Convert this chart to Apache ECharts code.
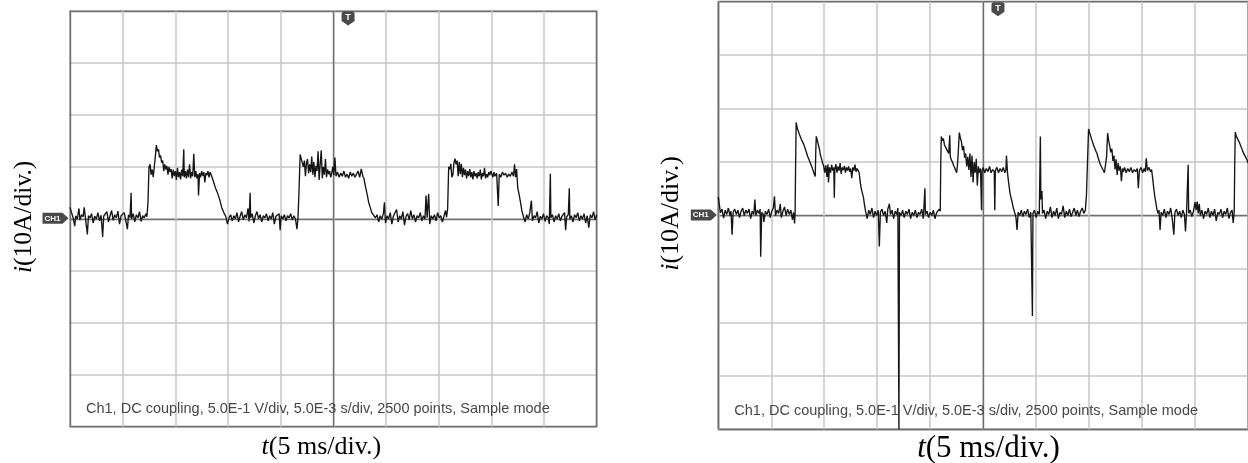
<!DOCTYPE html>
<html>
<head>
<meta charset="utf-8">
<script src="https://cdn.jsdelivr.net/npm/echarts@6/dist/echarts.min.js"></script>
<style>
html,body{margin:0;padding:0;background:#fff;}
#chart{width:1248px;height:463px;}
</style>
</head>
<body>
<div id="chart"></div>
<script>
// Values in divisions: x in time divisions (5 ms/div), y in current divisions (10 A/div)
const timeDivTicks = [0,1,2,3,4,5,6,7,8,9,10];
const currentDivTicks = [-4,-3,-2,-1,0,1,2,3,4];
const xTitle = 't(5 ms/div.)';
const yTitle = 'i(10A/div.)';
const infoText = 'Ch1, DC coupling, 5.0E-1 V/div, 5.0E-3 s/div, 2500 points, Sample mode';
const triggerPos = 5.28;

const leftTrace = [
[0.00,0.22],[0.03,0.12],[0.06,0.02],[0.09,-0.14],[0.11,0.06],[0.14,0.0],[0.17,0.20],[0.19,-0.02],[0.22,0.08],[0.25,0.04],[0.27,0.22],[0.30,-0.05],[0.33,-0.30],[0.35,0.06],[0.38,0.02],[0.41,0.10],[0.44,-0.08],[0.47,0.05],[0.50,0.0],[0.53,0.12],[0.56,-0.04],[0.59,0.07],[0.62,-0.35],[0.64,0.05],[0.67,0.02],[0.70,0.14],[0.73,-0.06],[0.76,0.06],[0.79,0.16],[0.82,-0.03],[0.85,0.08],[0.88,0.02],[0.91,0.15],[0.94,-0.10],[0.97,0.06],[1.00,0.03],[1.03,0.12],[1.06,-0.04],[1.09,-0.20],[1.11,0.08],[1.14,0.02],[1.16,0.50],[1.17,0.0],[1.20,0.10],[1.23,-0.06],[1.26,0.08],[1.29,0.02],[1.32,0.14],[1.35,-0.05],[1.38,0.06],[1.41,0.02],[1.44,0.10],[1.46,0.04],
[1.48,0.30],[1.50,1.00],[1.52,1.05],[1.54,0.85],[1.56,0.95],[1.58,0.80],[1.60,0.78],[1.62,1.20],[1.64,1.42],[1.66,1.30],[1.68,1.34],[1.70,1.18],[1.72,1.22],[1.74,1.08],[1.76,1.12],[1.78,0.92],[1.80,1.05],[1.82,0.95],[1.84,1.02],[1.86,0.85],[1.88,1.00],[1.90,0.90],[1.92,0.96],[1.94,0.78],[1.96,0.95],[1.98,0.82],[2.00,0.92],[2.02,0.75],[2.04,0.98],[2.06,0.80],[2.08,0.90],[2.10,0.76],[2.12,0.95],[2.14,0.82],[2.16,1.34],[2.17,0.80],[2.19,0.92],[2.21,0.78],[2.23,0.95],[2.25,0.80],[2.27,1.05],[2.29,0.78],[2.31,0.90],[2.33,0.82],[2.35,1.25],[2.37,0.80],[2.39,0.92],[2.41,0.78],[2.43,0.86],[2.44,0.45],[2.46,0.88],[2.48,0.80],[2.50,0.92],[2.52,0.83],[2.54,0.90],[2.56,0.70],[2.58,0.88],[2.60,0.84],[2.62,0.92],[2.64,0.80],[2.66,0.90],[2.68,0.85],[2.70,0.84],[2.73,0.70],[2.76,0.60],[2.80,0.50],[2.84,0.38],[2.88,0.22],[2.92,0.12],[2.96,0.04],[2.99,-0.10],
[3.02,0.02],[3.05,0.08],[3.08,-0.04],[3.11,0.06],[3.14,0.0],[3.17,0.12],[3.20,-0.06],[3.23,0.05],[3.26,0.14],[3.29,-0.02],[3.32,0.08],[3.35,0.02],[3.38,0.20],[3.40,-0.05],[3.42,0.50],[3.43,0.02],[3.46,0.10],[3.49,-0.08],[3.52,0.06],[3.55,0.14],[3.58,0.0],[3.61,0.08],[3.64,-0.06],[3.67,0.06],[3.70,0.02],[3.73,0.10],[3.76,-0.04],[3.79,0.06],[3.82,0.0],[3.85,0.12],[3.88,-0.10],[3.91,0.05],[3.94,0.02],[3.97,0.10],[3.99,-0.22],[4.01,0.06],[4.04,0.0],[4.07,0.08],[4.10,-0.04],[4.13,0.06],[4.16,0.02],[4.19,0.10],[4.22,-0.02],[4.25,0.06],[4.28,0.0],[4.31,-0.20],[4.33,0.04],
[4.35,0.60],[4.37,1.24],[4.39,1.16],[4.41,1.18],[4.43,1.00],[4.45,1.12],[4.47,0.82],[4.49,1.08],[4.51,1.15],[4.53,0.88],[4.55,1.05],[4.57,0.90],[4.59,1.20],[4.61,0.85],[4.63,1.10],[4.65,0.80],[4.67,1.02],[4.69,0.92],[4.71,1.30],[4.73,0.75],[4.75,1.05],[4.77,1.32],[4.79,0.78],[4.81,1.00],[4.83,0.85],[4.85,1.15],[4.87,0.80],[4.89,0.95],[4.91,0.86],[4.93,0.92],[4.95,0.80],[4.97,0.88],[4.99,1.00],[5.01,0.84],[5.03,1.18],[5.05,0.82],[5.08,0.90],[5.11,0.80],[5.14,0.88],[5.17,0.82],[5.20,0.92],[5.23,0.80],[5.26,0.86],[5.29,0.78],[5.32,0.90],[5.35,0.82],[5.38,0.88],[5.41,0.80],[5.44,0.86],[5.47,0.92],[5.50,0.80],[5.53,0.96],[5.56,0.82],[5.58,0.78],[5.61,0.62],[5.64,0.48],[5.67,0.32],[5.70,0.22],[5.73,0.12],[5.77,0.06],[5.80,0.02],[5.83,0.08],
[5.86,-0.06],[5.89,0.06],[5.92,0.0],[5.95,0.10],[5.97,0.32],[5.99,-0.08],[6.02,0.06],[6.05,0.0],[6.08,0.12],[6.11,-0.10],[6.14,0.05],[6.17,0.02],[6.20,0.18],[6.23,-0.06],[6.26,0.06],[6.29,0.0],[6.32,0.14],[6.35,-0.12],[6.38,0.05],[6.41,0.10],[6.44,-0.02],[6.47,0.16],[6.50,0.0],[6.53,0.08],[6.56,-0.06],[6.59,0.06],[6.62,0.02],[6.65,0.12],[6.68,-0.04],[6.71,0.06],[6.74,0.0],[6.76,0.45],[6.78,0.02],[6.81,0.48],[6.83,-0.10],[6.86,0.06],[6.89,0.0],[6.92,0.08],[6.95,-0.04],[6.98,0.12],[7.01,0.02],[7.04,0.06],[7.07,-0.06],[7.10,0.05],[7.13,0.16],[7.15,0.03],
[7.17,0.20],[7.19,1.00],[7.21,0.95],[7.23,1.06],[7.25,0.80],[7.27,0.85],[7.29,1.08],[7.31,1.16],[7.33,1.05],[7.35,1.12],[7.37,0.82],[7.39,1.10],[7.41,0.86],[7.43,1.06],[7.45,0.80],[7.47,0.98],[7.49,0.84],[7.51,0.95],[7.53,0.78],[7.55,0.92],[7.57,0.82],[7.59,0.96],[7.61,0.80],[7.63,0.90],[7.65,0.76],[7.67,0.92],[7.69,0.82],[7.71,0.88],[7.73,0.78],[7.75,0.90],[7.77,0.82],[7.79,0.95],[7.81,0.76],[7.83,0.88],[7.85,0.82],[7.87,0.98],[7.89,0.78],[7.91,0.86],[7.93,0.80],[7.95,0.90],[7.97,0.84],[7.99,0.92],[8.01,0.86],[8.03,0.80],[8.05,0.90],[8.07,0.82],[8.10,0.88],[8.13,0.25],[8.15,0.86],[8.18,0.80],[8.21,0.90],[8.24,0.84],[8.27,0.88],[8.30,0.80],[8.33,0.86],[8.36,0.82],[8.39,0.90],[8.42,0.82],[8.44,1.05],[8.46,0.80],[8.48,0.96],[8.50,0.60],[8.53,0.45],[8.56,0.28],[8.58,0.15],[8.61,0.04],
[8.64,-0.06],[8.67,0.08],[8.70,0.0],[8.73,0.12],[8.76,0.35],[8.78,-0.04],[8.81,0.06],[8.84,0.02],[8.87,0.14],[8.90,-0.08],[8.93,0.05],[8.96,0.0],[8.99,0.10],[9.02,-0.05],[9.05,0.06],[9.08,0.02],[9.10,-0.10],[9.12,0.87],[9.13,0.02],[9.16,0.08],[9.19,-0.06],[9.22,0.06],[9.25,0.0],[9.28,0.10],[9.31,-0.04],[9.34,0.05],[9.37,0.02],[9.39,0.12],[9.41,-0.22],[9.43,0.04],[9.46,0.08],[9.48,0.59],[9.49,0.0],[9.52,0.06],[9.55,-0.06],[9.58,0.08],[9.61,0.02],[9.64,0.12],[9.67,-0.04],[9.70,0.06],[9.73,0.0],[9.76,0.10],[9.79,-0.08],[9.82,0.06],[9.85,-0.17],[9.88,0.08],[9.91,0.02],[9.94,0.14],[9.97,-0.02],[10.0,0.08]
];

const rightTrace = [
[0.00,0.35],[0.02,0.20],[0.04,0.05],[0.07,0.12],[0.10,-0.05],[0.13,0.10],[0.16,0.02],[0.19,0.14],[0.22,0.0],[0.24,0.08],[0.26,-0.36],[0.28,0.06],[0.31,0.12],[0.34,0.02],[0.37,0.10],[0.40,-0.04],[0.43,0.08],[0.46,0.14],[0.49,0.0],[0.52,0.10],[0.55,0.04],[0.58,0.12],[0.61,-0.06],[0.64,0.08],[0.67,0.02],[0.69,0.30],[0.71,0.0],[0.74,0.10],[0.77,0.04],[0.79,0.12],[0.80,-0.77],[0.82,0.06],[0.85,0.02],[0.86,-0.12],[0.89,0.08],[0.92,0.02],[0.95,0.12],[0.98,-0.04],[1.01,0.08],[1.04,0.14],[1.06,0.36],[1.08,0.0],[1.11,0.10],[1.14,0.04],[1.17,0.22],[1.19,-0.04],[1.22,0.08],[1.25,0.16],[1.28,0.0],[1.31,0.12],[1.34,0.02],[1.37,0.10],[1.40,-0.08],[1.42,0.06],[1.44,-0.15],[1.45,0.05],
[1.46,1.00],[1.47,1.74],[1.49,1.64],[1.51,1.62],[1.53,1.52],[1.55,1.52],[1.57,1.42],[1.59,1.42],[1.61,1.34],[1.63,1.32],[1.65,1.22],[1.67,1.22],[1.69,1.10],[1.71,1.10],[1.73,1.00],[1.75,0.98],[1.77,0.90],[1.79,0.88],[1.81,0.78],[1.83,0.73],[1.84,1.20],[1.85,1.48],[1.87,1.40],[1.89,1.32],[1.91,1.24],[1.93,1.12],[1.95,1.06],[1.97,0.98],[1.99,0.92],
[2.01,0.80],[2.03,0.94],[2.05,0.72],[2.07,0.96],[2.08,0.62],[2.10,0.90],[2.12,0.80],[2.14,0.95],[2.16,0.84],[2.18,0.90],[2.19,0.33],[2.20,0.86],[2.22,0.96],[2.24,0.80],[2.26,0.92],[2.28,0.84],[2.30,0.98],[2.32,0.78],[2.34,0.90],[2.36,0.85],[2.38,0.93],[2.40,0.80],[2.42,0.90],[2.44,0.84],[2.46,0.92],[2.48,0.82],[2.50,0.88],[2.52,0.70],[2.54,0.90],[2.56,0.84],[2.58,0.95],[2.60,0.82],[2.62,0.88],[2.64,0.84],[2.66,0.80],[2.68,0.62],[2.70,0.50],[2.72,0.42],[2.74,0.34],[2.76,0.20],[2.78,0.08],
[2.81,-0.06],[2.84,0.10],[2.87,0.02],[2.90,0.14],[2.93,-0.04],[2.96,0.08],[2.99,0.0],[3.02,0.10],[3.04,-0.58],[3.06,0.06],[3.09,0.12],[3.12,0.0],[3.15,0.08],[3.18,-0.14],[3.20,0.12],[3.23,0.22],[3.25,0.02],[3.28,0.10],[3.31,-0.06],[3.34,0.08],[3.37,0.02],[3.39,0.14],[3.41,-4.0],[3.42,0.06],[3.45,0.0],[3.48,0.10],[3.51,-0.04],[3.54,0.08],[3.57,0.02],[3.60,0.12],[3.63,-0.06],[3.66,0.06],[3.69,0.0],[3.72,0.10],[3.75,-0.04],[3.78,0.06],[3.81,0.02],[3.84,0.12],[3.87,-0.06],[3.90,0.51],[3.91,0.02],[3.94,0.08],[3.97,-0.04],[4.00,0.06],[4.03,0.0],[4.06,0.10],[4.09,-0.06],[4.12,0.05],[4.15,0.02],[4.17,0.12],[4.19,0.08],
[4.20,1.00],[4.21,1.48],[4.23,1.40],[4.25,1.44],[4.27,1.32],[4.29,1.28],[4.31,1.30],[4.33,1.20],[4.35,1.16],[4.37,1.50],[4.38,1.10],[4.40,1.04],[4.42,1.00],[4.44,0.94],[4.46,0.90],[4.48,0.85],[4.50,0.80],[4.52,1.00],[4.55,1.55],[4.57,1.45],[4.59,1.38],[4.61,1.22],[4.63,1.30],[4.65,1.08],[4.67,1.16],[4.69,0.92],[4.71,1.10],[4.73,0.85],[4.75,1.16],[4.77,0.72],[4.79,1.12],[4.81,0.62],[4.83,1.00],[4.85,0.80],[4.87,1.06],[4.89,0.56],[4.91,0.92],[4.93,0.80],[4.95,0.88],[4.97,0.10],[4.98,0.84],[5.00,0.90],[5.03,0.80],[5.06,0.88],[5.09,0.82],[5.12,0.92],[5.15,0.80],[5.18,0.86],[5.21,0.82],[5.22,0.10],[5.23,0.84],[5.26,0.90],[5.29,0.80],[5.32,0.88],[5.35,0.82],[5.38,0.90],[5.41,0.80],[5.43,0.86],[5.44,1.12],[5.46,0.80],[5.48,0.62],[5.51,0.40],[5.54,0.28],[5.57,0.14],[5.60,0.04],
[5.62,-0.04],[5.64,-0.27],[5.66,0.06],[5.69,0.0],[5.72,0.10],[5.75,-0.02],[5.78,0.08],[5.81,0.02],[5.84,0.12],[5.87,-0.04],[5.90,0.06],[5.93,-1.88],[5.94,0.04],[5.97,0.10],[6.00,-0.04],[6.03,0.08],[6.06,0.02],[6.08,1.48],[6.09,0.30],[6.11,0.46],[6.12,0.04],[6.15,0.10],[6.18,-0.06],[6.21,0.08],[6.24,0.02],[6.27,0.16],[6.30,-0.04],[6.33,0.08],[6.36,0.0],[6.39,0.14],[6.42,-0.06],[6.45,0.06],[6.48,0.02],[6.51,0.18],[6.54,-0.04],[6.57,0.08],[6.60,0.0],[6.63,0.12],[6.66,-0.02],[6.69,0.06],[6.72,0.14],[6.75,0.0],[6.78,0.10],[6.81,-0.02],[6.84,0.08],[6.87,0.14],[6.90,0.04],[6.93,0.10],[6.95,0.38],
[6.97,1.00],[6.99,1.62],[7.01,1.55],[7.03,1.54],[7.05,1.42],[7.07,1.42],[7.09,1.30],[7.11,1.28],[7.13,1.20],[7.15,1.16],[7.17,1.08],[7.19,1.08],[7.21,0.96],[7.23,0.96],[7.25,0.88],[7.27,0.88],[7.29,0.80],[7.31,0.79],[7.33,1.10],[7.35,1.54],[7.37,1.40],[7.39,1.30],[7.41,1.18],[7.43,1.25],[7.45,1.02],[7.47,1.12],[7.49,0.86],[7.51,1.05],[7.53,0.76],[7.55,0.98],[7.57,0.84],[7.59,0.92],[7.61,0.64],[7.63,0.88],[7.65,0.82],[7.67,0.90],[7.70,0.80],[7.73,0.88],[7.76,0.82],[7.79,0.90],[7.82,0.80],[7.85,0.86],[7.88,0.82],[7.91,0.88],[7.93,0.51],[7.95,0.84],[7.98,0.90],[8.01,0.80],[8.04,0.88],[8.06,0.82],[8.08,1.07],[8.10,0.84],[8.13,0.90],[8.16,0.82],[8.18,0.86],[8.20,0.70],[8.22,0.52],[8.24,0.36],[8.26,0.24],[8.28,0.12],[8.30,0.04],
[8.32,0.10],[8.34,-0.27],[8.36,0.06],[8.39,0.0],[8.42,0.12],[8.45,-0.04],[8.48,0.08],[8.51,0.02],[8.54,0.14],[8.57,-0.06],[8.60,-0.36],[8.62,0.06],[8.65,0.12],[8.68,0.0],[8.71,0.08],[8.74,-0.04],[8.77,0.10],[8.80,0.02],[8.82,-0.30],[8.84,0.06],[8.87,0.95],[8.88,0.04],[8.91,0.10],[8.94,-0.02],[8.97,0.08],[9.00,0.25],[9.02,0.10],[9.04,0.26],[9.06,0.04],[9.08,0.22],[9.10,0.0],[9.13,0.10],[9.16,-0.06],[9.19,0.08],[9.22,0.02],[9.25,0.14],[9.28,-0.04],[9.31,0.08],[9.34,0.0],[9.37,0.12],[9.40,-0.10],[9.43,0.06],[9.46,0.02],[9.49,0.12],[9.52,-0.04],[9.55,0.08],[9.58,0.02],[9.61,0.14],[9.64,-0.06],[9.67,0.06],[9.70,0.10],[9.72,-0.14],[9.74,0.08],
[9.75,1.00],[9.76,1.56],[9.78,1.48],[9.80,1.50],[9.82,1.40],[9.84,1.36],[9.86,1.38],[9.88,1.26],[9.90,1.20],[9.92,1.22],[9.94,1.12],[9.96,1.08],[9.98,1.04],[10.0,0.98]
];

const GRID_COLOR = '#c6c6c6';
const CENTER_COLOR = '#6f6f6f';
const BORDER_COLOR = '#7c7c7c';
const TRACE_COLOR = '#151515';
const SERIF = '"Liberation Serif","DejaVu Serif",serif';
const SANS = '"Liberation Sans",Arial,sans-serif';

const grids = [
  {left: 70, top: 11, width: 526.7, height: 415.7},
  {left: 718.3, top: 1.7, width: 532.4, height: 427.6}
];

function xAxes(gi) {
  const t = timeDivTicks;
  return [
    {gridIndex: gi, type: 'value', min: t[0], max: t[t.length-1], interval: 1,
     axisLine: {show: false}, axisTick: {show: false}, axisLabel: {show: false},
     splitLine: {show: true, lineStyle: {color: GRID_COLOR, width: 1.5}}},
    {gridIndex: gi, type: 'value', min: t[0], max: t[t.length-1], interval: 5,
     axisLine: {show: false}, axisTick: {show: false}, axisLabel: {show: false},
     splitLine: {show: true, lineStyle: {color: CENTER_COLOR, width: 1.4}}}
  ];
}
function yAxes(gi) {
  const c = currentDivTicks;
  return [
    {gridIndex: gi, type: 'value', min: c[0], max: c[c.length-1], interval: 1,
     axisLine: {show: false}, axisTick: {show: false}, axisLabel: {show: false},
     splitLine: {show: true, lineStyle: {color: GRID_COLOR, width: 1.5}}},
    {gridIndex: gi, type: 'value', min: c[0], max: c[c.length-1], interval: 4,
     axisLine: {show: false}, axisTick: {show: false}, axisLabel: {show: false},
     splitLine: {show: true, lineStyle: {color: CENTER_COLOR, width: 1.4}}}
  ];
}

const chart = echarts.init(document.getElementById('chart'), null, {renderer: 'canvas'});
chart.setOption({
  animation: false,
  backgroundColor: '#ffffff',
  grid: grids.map(g => Object.assign({show: true, borderColor: BORDER_COLOR, borderWidth: 1.6, backgroundColor: 'transparent'}, g)),
  xAxis: xAxes(0).concat(xAxes(1)),
  yAxis: yAxes(0).concat(yAxes(1)),
  series: [
    {type: 'line', xAxisIndex: 0, yAxisIndex: 0, data: leftTrace, showSymbol: false, symbol: 'none',
     lineStyle: {color: TRACE_COLOR, width: 1.35}, clip: true, z: 5},
    {type: 'line', xAxisIndex: 2, yAxisIndex: 2, data: rightTrace, showSymbol: false, symbol: 'none',
     lineStyle: {color: TRACE_COLOR, width: 1.35}, clip: true, z: 5}
  ]
});

// Decorations positioned from the axis scales
const graphics = [];
const panelText = [
  {info: {dx: 16, dy: -18, size: 14.5}, xt: {size: 26, dx: -12, y: 447}, yt: {size: 25.5, x: 24}},
  {info: {dx: 16, dy: -18, size: 14.5}, xt: {size: 31, dx: 4, y: 449}, yt: {size: 26, x: 671}}
];
[0, 1].forEach(gi => {
  const g = grids[gi];
  const pZero = chart.convertToPixel({gridIndex: gi}, [timeDivTicks[0], 0]);
  const pTrig = chart.convertToPixel({gridIndex: gi}, [triggerPos, currentDivTicks[currentDivTicks.length-1]]);
  const pt = panelText[gi];
  // CH1 marker
  const tipX = g.left - 1.5, y0 = pZero[1] - 0.5;
  graphics.push({type: 'polygon', shape: {points: [[tipX-26, y0-5.5],[tipX-6, y0-5.5],[tipX, y0],[tipX-6, y0+5.5],[tipX-26, y0+5.5]]},
    style: {fill: '#4a4a4a'}, z: 10});
  graphics.push({type: 'text', x: tipX-16, y: y0, style: {text: 'CH1', fill: '#ffffff', font: 'bold 8px ' + SANS, align: 'center', verticalAlign: 'middle'}, z: 11});
  // T marker
  const cx = pTrig[0], top = pTrig[1] + 0.5;
  graphics.push({type: 'polygon', shape: {points: [[cx-6.5, top+1.5],[cx-5, top],[cx+5, top],[cx+6.5, top+1.5],[cx+6.5, top+9.5],[cx, top+14],[cx-6.5, top+9.5]]},
    style: {fill: '#4a4a4a'}, z: 10});
  graphics.push({type: 'text', x: cx, y: top+6.5, style: {text: 'T', fill: '#ffffff', font: 'bold 9px ' + SANS, align: 'center', verticalAlign: 'middle'}, z: 11});
  // info text
  graphics.push({type: 'text', x: g.left + pt.info.dx, y: g.top + g.height + pt.info.dy,
    style: {text: infoText, fill: '#474747', font: pt.info.size + 'px ' + SANS, align: 'left', verticalAlign: 'middle'}, z: 12});
  // x title
  graphics.push({type: 'text', x: g.left + g.width/2 + pt.xt.dx, y: pt.xt.y,
    style: {text: '{i|t}(5 ms/div.)', fill: '#000', align: 'center', verticalAlign: 'middle',
      rich: {i: {fontStyle: 'italic', fontFamily: SERIF, fontSize: pt.xt.size, fill: '#000'}}, fontFamily: SERIF, fontSize: pt.xt.size}, z: 12});
  // y title
  graphics.push({type: 'text', x: pt.yt.x, y: pZero[1] - 2, rotation: Math.PI/2,
    style: {text: '{i|i}(10A/div.)', fill: '#000', align: 'center', verticalAlign: 'middle', fontFamily: SERIF, fontSize: pt.yt.size,
      rich: {i: {fontStyle: 'italic', fontFamily: SERIF, fontSize: pt.yt.size, fill: '#000'}}}, z: 12});
});
chart.setOption({graphic: graphics});
</script>
</body>
</html>
